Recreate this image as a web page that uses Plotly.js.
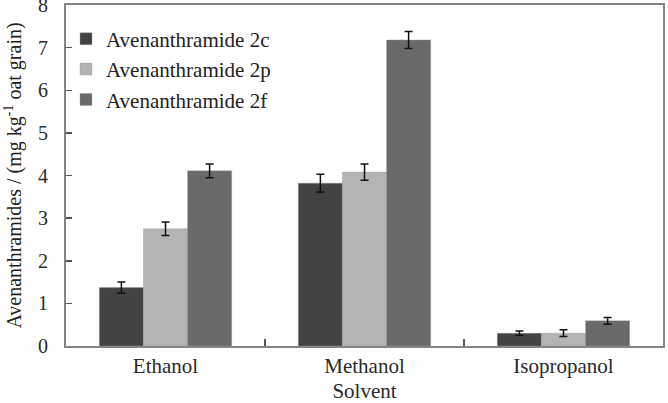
<!DOCTYPE html>
<html>
<head>
<meta charset="utf-8">
<script src="https://cdn.plot.ly/plotly-3.0.1.min.js"></script>
<style>
  html, body { margin: 0; padding: 0; background: #fff; }
  #chart { width: 668px; height: 403px; }
</style>
</head>
<body>
<div id="chart"></div>
<script>
// Avenanthramide content by extraction solvent (mg/kg oat grain), mean ± SD
const solvents = ['Ethanol', 'Methanol', 'Isopropanol'];
const seriesNames = ['Avenanthramide 2c', 'Avenanthramide 2p', 'Avenanthramide 2f'];
const avn2c = [1.37, 3.82, 0.30];
const avn2cErr = [0.13, 0.21, 0.05];
const avn2p = [2.75, 4.08, 0.30];
const avn2pErr = [0.16, 0.19, 0.08];
const avn2f = [4.11, 7.18, 0.59];
const avn2fErr = [0.16, 0.20, 0.08];
const yTicks = [0, 1, 2, 3, 4, 5, 6, 7, 8];

const colors = ['#434343', '#b3b3b3', '#6a6a6a'];
const values = [avn2c, avn2p, avn2f];
const errors = [avn2cErr, avn2pErr, avn2fErr];

const traces = seriesNames.map((name, i) => ({
  type: 'bar',
  name: name,
  x: solvents,
  y: values[i],
  legendgroup: 'g' + i,
  marker: { color: colors[i], line: { color: 'rgba(150,150,150,0.6)', width: 0.6 } },
  error_y: { type: 'data', array: errors[i], visible: true, color: '#111', thickness: 1.5, width: 4 }
}));

const font = 'Liberation Serif, Times New Roman, serif';

const layout = {
  width: 668,
  height: 403,
  margin: { l: 66, r: 5, t: 5, b: 57 },
  paper_bgcolor: '#fff',
  plot_bgcolor: '#fff',
  barmode: 'group',
  bargap: 0.335,
  bargroupgap: 0,
  font: { family: font, size: 20, color: '#222' },
  showlegend: true,
  legend: {
    x: 0.0, y: 0.96, xanchor: 'left', yanchor: 'top',
    bgcolor: 'rgba(0,0,0,0)',
    traceorder: 'grouped',
    tracegroupgap: 0,
    font: { family: font, size: 21, color: '#222' }
  },
  xaxis: {
    type: 'category',
    range: [-0.5, 2.5],
    showline: true, linecolor: '#858585', linewidth: 2, mirror: true,
    ticks: 'inside', tickson: 'boundaries', ticklen: 7, tickcolor: '#555', tickwidth: 1.5,
    tickfont: { family: font, size: 21, color: '#2a2a2a' },
    showgrid: false, zeroline: false,
    automargin: false,
    title: { text: 'Solvent', font: { family: font, size: 21, color: '#2a2a2a' }, standoff: 28 }
  },
  yaxis: {
    range: [0, 8],
    tickvals: yTicks,
    ticktext: yTicks.map(String),
    showline: true, linecolor: '#858585', linewidth: 2, mirror: true,
    ticks: 'inside', ticklen: 6, tickcolor: '#555', tickwidth: 1.5,
    ticklabelstandoff: 12,
    ticklabeloverflow: 'allow',
    tickfont: { family: font, size: 20, color: '#2a2a2a' },
    showgrid: false, zeroline: false,
    automargin: false,
    title: { text: 'Avenanthramides / (mg kg<sup>-1</sup> oat grain)', font: { family: font, size: 20, color: '#222' }, standoff: 11 }
  }
};

Plotly.newPlot('chart', traces, layout, { displayModeBar: false, staticPlot: true });
</script>
</body>
</html>
